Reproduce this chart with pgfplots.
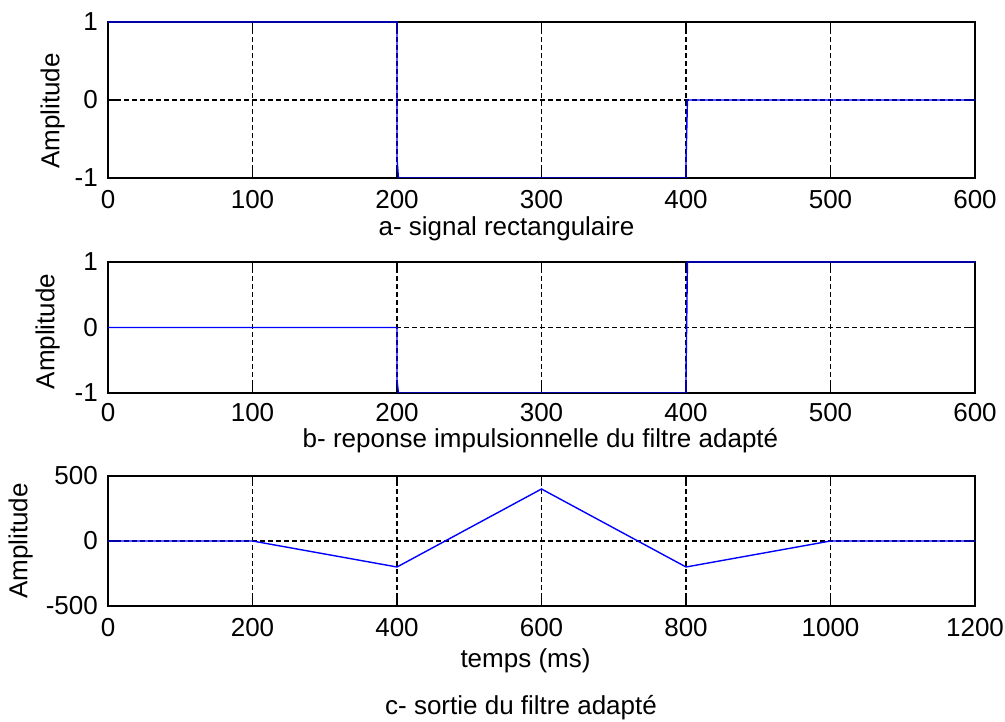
\documentclass[border=0pt]{standalone}
\usepackage{fontspec}
\setmainfont{Liberation Sans}
\usepackage{pgfplots}
\pgfplotsset{compat=1.18}
\usetikzlibrary{calc}

\pgfplotsset{
  matlab/.style={
    scale only axis, width=867bp, anchor=south west,
    axis line style={line width=1.4bp, black},
    tick style={line width=1.4bp, black},
    major tick length=8bp, tick align=inside,
    grid=major,
    major grid style={line width=1.2bp, black, dash pattern=on 4.5bp off 3.5bp},
    every tick label/.append style={font=\fontsize{26bp}{30bp}\selectfont, inner sep=0pt},
    xticklabel style={yshift=-12bp},
    yticklabel style={xshift=-10bp},
    label style={font=\fontsize{26bp}{30bp}\selectfont, inner sep=0pt},
    xlabel style={anchor=base},
    ylabel style={anchor=south},
  },
  sig/.style={blue, line width=1.4bp},
}

\begin{document}
\begin{tikzpicture}
\path[use as bounding box] (0,0) rectangle (1005bp,722bp);

% a- signal rectangulaire
\begin{axis}[matlab, at={(108bp,544bp)}, height=156bp,
  xmin=0, xmax=600, ymin=-1, ymax=1,
  xtick={0,100,200,300,400,500,600},
  xticklabels={0,100,200,300,400,500,600},
  ytick={-1,0,1}, yticklabels={-1,0,1},
  xlabel={a- signal rectangulaire},
  xlabel style={at={($(axis description cs:0.5,0)+(-35bp,-58bp)$)}},
  ylabel={Amplitude},
  ylabel style={at={($(axis description cs:0,0.5)+(-43bp,-11bp)$)}},
]
\addplot[sig] coordinates {(0,1) (200,1) (200,-0.75) (201,-1) (400,-1) (400,-0.8) (401,0) (600,0)};
\end{axis}

% b- reponse impulsionnelle
\begin{axis}[matlab, at={(108bp,329bp)}, height=131bp,
  xmin=0, xmax=600, ymin=-1, ymax=1,
  xtick={0,100,200,300,400,500,600},
  xticklabels={0,100,200,300,400,500,600},
  xticklabel style={yshift=1.5bp},
  ytick={-1,0,1}, yticklabels={-1,0,1},
  xlabel={b- reponse impulsionnelle du filtre adapté},
  xlabel style={at={($(axis description cs:0.5,0)+(-1bp,-55bp)$)}},
  ylabel={Amplitude},
  ylabel style={at={($(axis description cs:0,0.5)+(-48bp,-4bp)$)}},
]
\addplot[sig] coordinates {(0,0) (200,0) (200,-0.8) (201,-1) (400,-1) (400,-0.75) (401,1) (600,1)};
\end{axis}

% c- sortie du filtre adapte
\begin{axis}[matlab, at={(108bp,116bp)}, height=130bp,
  xmin=0, xmax=1200, ymin=-500, ymax=500,
  xtick={0,200,400,600,800,1000,1200},
  xticklabels={0,200,400,600,800,1000,1200},
  ytick={-500,0,500}, yticklabels={-500,0,500},
  xlabel={temps (ms)},
  xlabel style={at={($(axis description cs:0.5,0)+(-16bp,-61bp)$)}},
  ylabel={Amplitude},
  ylabel style={at={($(axis description cs:0,0.5)+(-75bp,0bp)$)}},
]
\addplot[sig] coordinates {(0,0) (200,0) (400,-200) (600,400) (800,-200) (1000,0) (1200,0)};
\end{axis}

\node[anchor=base, inner sep=0pt, font=\fontsize{26bp}{30bp}\selectfont] at (521bp,8bp) {c- sortie du filtre adapté};
\end{tikzpicture}
\end{document}
